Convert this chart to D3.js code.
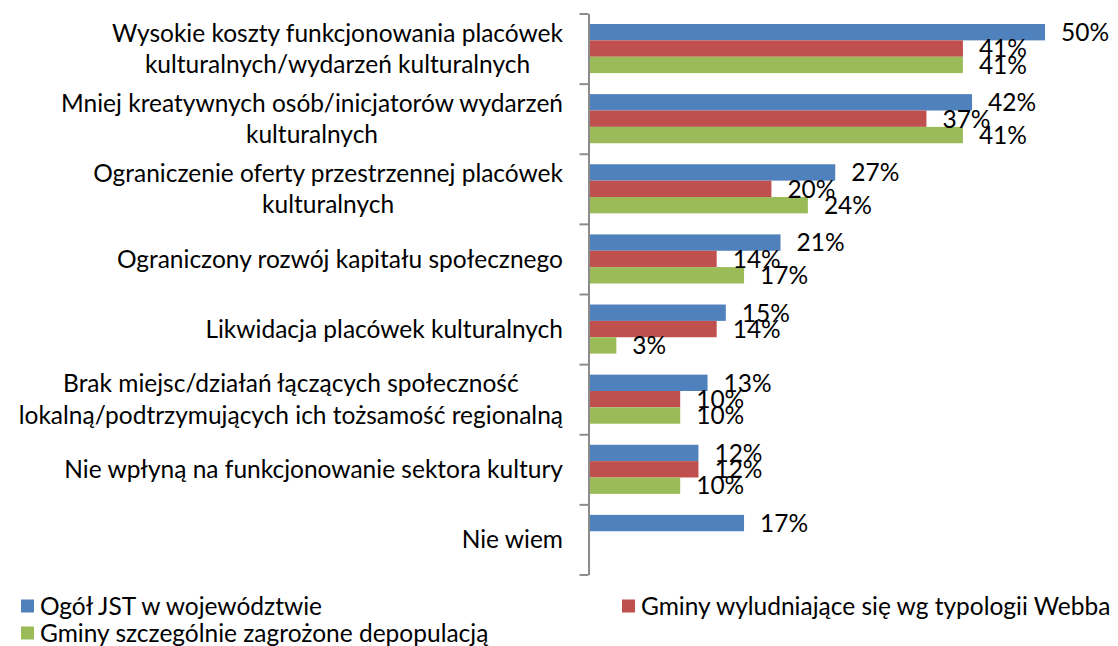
<!DOCTYPE html>
<html>
<head>
<meta charset="utf-8">
<script src="https://cdn.jsdelivr.net/npm/d3@7"></script>
<style>
  body { margin: 0; background: #fff; }
  svg { display: block; }
  text { font-family: Lato, "Open Sans", sans-serif; fill: #000; }
</style>
</head>
<body>
<svg id="chart" width="1118" height="646"></svg>
<script>
// Category labels (already split into display lines)
const categories = [
  ["Wysokie koszty funkcjonowania placówek", "kulturalnych/wydarzeń kulturalnych"],
  ["Mniej kreatywnych osób/inicjatorów wydarzeń", "kulturalnych"],
  ["Ograniczenie oferty przestrzennej placówek", "kulturalnych"],
  ["Ograniczony rozwój kapitału społecznego"],
  ["Likwidacja placówek kulturalnych"],
  ["Brak miejsc/działań łączących społeczność", "lokalną/podtrzymujących ich tożsamość regionalną"],
  ["Nie wpłyną na funkcjonowanie sektora kultury"],
  ["Nie wiem"]
];

const seriesNames = [
  "Ogół JST w województwie",
  "Gminy wyludniające się wg typologii Webba",
  "Gminy szczególnie zagrożone depopulacją"
];

// Percent of answers
const ogolJST      = [50, 42, 27, 21, 15, 13, 12, 17];
const wyludniajace = [41, 37, 20, 14, 14, 10, 12, null];
const zagrozone    = [41, 41, 24, 17, 3, 10, 10, null];

const seriesColors = ["#4F81BD", "#C0504D", "#9BBB59"];

const svg = d3.select("#chart");
const FONT = 24.5;

const plotTop = 13.5, plotBottom = 574.5;
const axisX = 588.5;
const labelRight = 563;

const x = d3.scaleLinear().domain([0, 50]).range([589, 1045]);

const y = d3.scaleBand()
  .domain(d3.range(categories.length))
  .range([plotTop, plotBottom])
  .paddingInner(0.3)
  .paddingOuter(0.15);

const ySub = d3.scaleBand()
  .domain(d3.range(seriesNames.length))
  .range([0, y.bandwidth()]);

const seriesData = [ogolJST, wyludniajace, zagrozone];

// Bars
const groups = svg.append("g").selectAll("g")
  .data(seriesData)
  .join("g")
  .attr("fill", (d, i) => seriesColors[i]);

groups.each(function (vals, si) {
  const g = d3.select(this);
  const pts = vals.map((v, ci) => ({ v, ci })).filter(d => d.v !== null);
  g.selectAll("rect")
    .data(pts)
    .join("rect")
    .attr("x", x(0))
    .attr("y", d => y(d.ci) + ySub(si))
    .attr("width", d => x(d.v) - x(0))
    .attr("height", ySub.bandwidth());
});

// Value labels
groups.each(function (vals, si) {
  const pts = vals.map((v, ci) => ({ v, ci })).filter(d => d.v !== null);
  svg.append("g").selectAll("text")
    .data(pts)
    .join("text")
    .attr("x", d => x(d.v) + 16)
    .attr("y", d => y(d.ci) + ySub(si) + ySub.bandwidth() / 2)
    .attr("dy", "0.36em")
    .attr("font-size", FONT)
    .text(d => d.v + "%");
});

// Category axis with ticks between categories
const yAxisScale = d3.scaleLinear()
  .domain([0, categories.length])
  .range([plotTop, plotBottom]);

const axisG = svg.append("g")
  .attr("transform", `translate(${axisX},0)`)
  .call(d3.axisLeft(yAxisScale)
    .tickValues(d3.range(categories.length + 1))
    .tickFormat("")
    .tickSize(9)
    .tickSizeOuter(0));
axisG.select(".domain").attr("stroke", "#8c8c8c").attr("stroke-width", 2);
axisG.selectAll(".tick line").attr("stroke", "#8c8c8c").attr("stroke-width", 2);

// Category labels, lines centred within the widest line, block right-aligned
const lineGap = 31.5;
categories.forEach((lines, ci) => {
  const midY = yAxisScale(ci + 0.5);
  const g = svg.append("g");
  const texts = g.selectAll("text")
    .data(lines)
    .join("text")
    .attr("font-size", FONT)
    .attr("y", (d, i) => midY + (i - (lines.length - 1) / 2) * lineGap)
    .attr("dy", "0.36em")
    .text(d => d);
  const widths = texts.nodes().map(n => n.getComputedTextLength());
  const maxW = d3.max(widths);
  texts.attr("text-anchor", "middle").attr("x", labelRight - maxW / 2);
});

// Legend
const legendItems = [
  { name: seriesNames[0], color: seriesColors[0], x: 21, y: 606 },
  { name: seriesNames[1], color: seriesColors[1], x: 622, y: 606 },
  { name: seriesNames[2], color: seriesColors[2], x: 21, y: 633 }
];
const leg = svg.append("g").selectAll("g")
  .data(legendItems)
  .join("g")
  .attr("transform", d => `translate(${d.x},${d.y})`);
leg.append("rect")
  .attr("x", 0).attr("y", -6.5)
  .attr("width", 13).attr("height", 13)
  .attr("fill", d => d.color);
leg.append("text")
  .attr("x", 19)
  .attr("dy", "0.36em")
  .attr("font-size", FONT)
  .text(d => d.name);
</script>
</body>
</html>
